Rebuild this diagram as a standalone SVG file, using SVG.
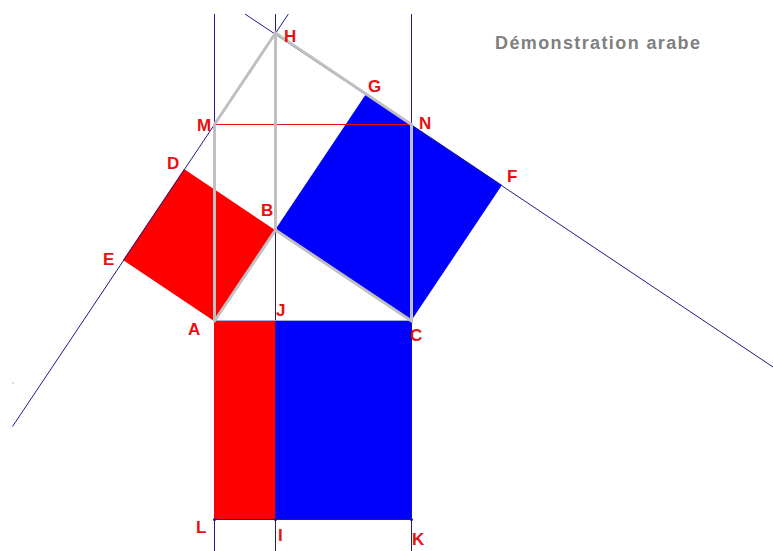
<svg xmlns="http://www.w3.org/2000/svg" width="773" height="551" viewBox="0 0 773 551">
<style>
.nv{stroke:#1c1c8a;stroke-width:1;fill:none}
.gr{stroke:#c0c0c0;stroke-width:3;fill:none;stroke-linecap:round}
.lb{font-family:"Liberation Sans",Arial,sans-serif;font-weight:bold;font-size:17px;fill:#e81010}
</style>
<rect width="773" height="551" fill="#ffffff"/>
<g id="verticals">
<line class="nv" x1="214.5" y1="14" x2="214.5" y2="551"/>
<line class="nv" x1="275.5" y1="14" x2="275.5" y2="551"/>
<line class="nv" x1="411.5" y1="14" x2="411.5" y2="551"/>
</g>
<g id="squares">
<polygon id="sqAB" points="214,321 275,230 184,169 123,260" fill="#ff0000"/>
<polygon id="sqBC" points="275,230 411,321 502,185 366,94" fill="#0000ff"/>
<rect id="rectAJIL" x="214" y="321" width="61.5" height="198.5" fill="#ff0000"/>
<rect id="rectJCKI" x="275.5" y="321" width="136" height="198.5" fill="#0000ff"/>
</g>
<g id="connectors">
<line class="nv" x1="12.5" y1="426.5" x2="288.4" y2="14"/>
<line class="nv" x1="245" y1="14" x2="773" y2="367"/>
<line class="nv" x1="214" y1="519.5" x2="411.5" y2="519.5"/>
<line x1="214" y1="320.5" x2="411.5" y2="320.5" stroke="#a8a8e0" stroke-width="1"/>
<line x1="214.5" y1="124.5" x2="411.5" y2="124.5" stroke="#e81010" stroke-width="1"/>
<polyline class="gr" points="214.5,321 214.5,124.5 275.5,33 411.5,124.5 411.5,321 275.5,230 214.5,321"/>
<line class="gr" x1="275.5" y1="33" x2="275.5" y2="230"/>
<circle cx="214.5" cy="519.5" r="1.5" fill="#1c1c8a"/>
<circle cx="275.5" cy="519.5" r="1.5" fill="#1c1c8a"/>
<circle cx="411.5" cy="519.5" r="1.5" fill="#1c1c8a"/>
<circle cx="13" cy="383" r="0.8" fill="#b0b0b0"/>
</g>
<g id="labels">
<text class="lb" x="284" y="42">H</text>
<text class="lb" x="368" y="92">G</text>
<text class="lb" x="197" y="131">M</text>
<text class="lb" x="419" y="129">N</text>
<text class="lb" x="167" y="169">D</text>
<text class="lb" x="103" y="265">E</text>
<text class="lb" x="261" y="216">B</text>
<text class="lb" x="507" y="182">F</text>
<text class="lb" x="188" y="335">A</text>
<text class="lb" x="276" y="316">J</text>
<text class="lb" x="410" y="341">C</text>
<text class="lb" x="196" y="533">L</text>
<text class="lb" x="278" y="541">I</text>
<text class="lb" x="412" y="545">K</text>
</g>
<g id="title">
<text x="495" y="48.5" font-family="Liberation Sans,Arial,sans-serif" font-weight="bold" font-size="18" fill="#808080" textLength="205" lengthAdjust="spacing">Démonstration arabe</text>
</g>
</svg>
